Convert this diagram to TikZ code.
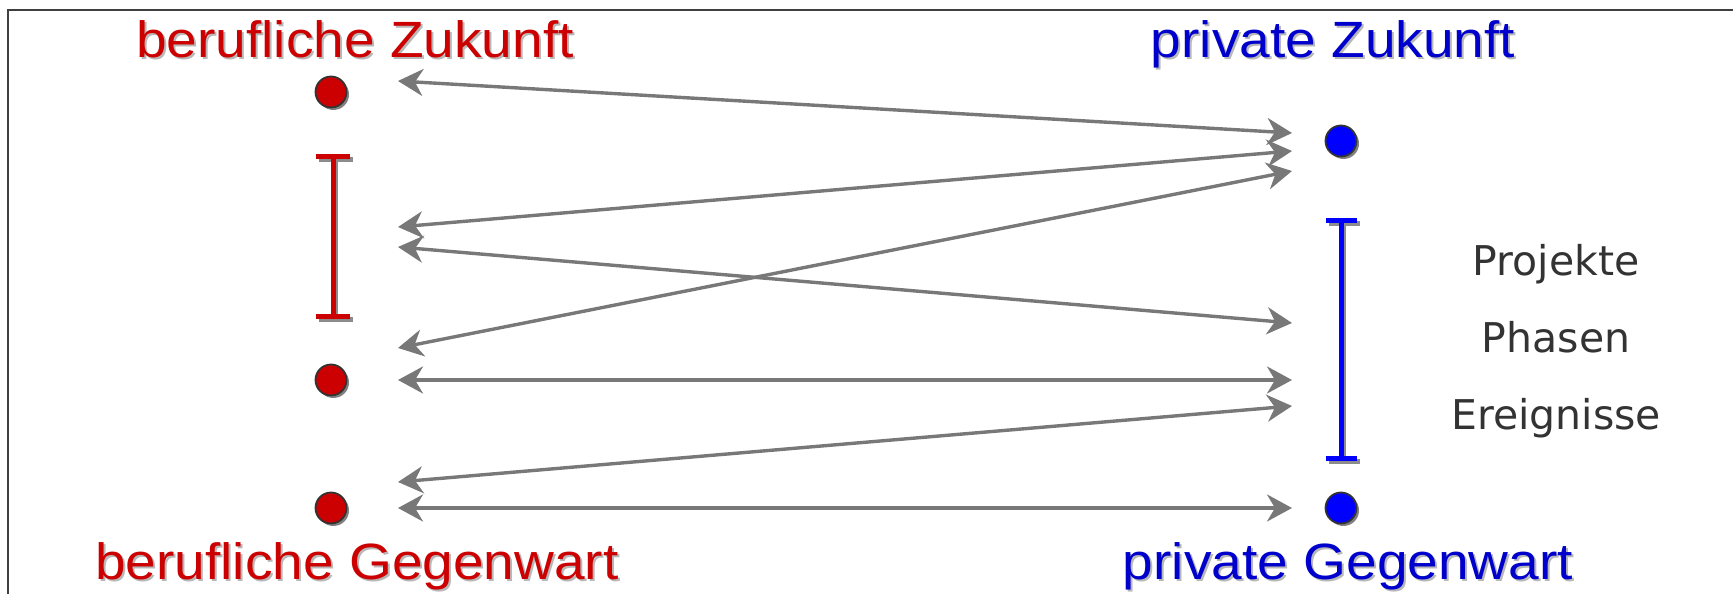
\documentclass[tikz,border=0pt]{standalone}
\usepackage{fontspec}
\setmainfont{Liberation Sans}
\newfontfamily\headfont[FakeStretch=1.08]{Liberation Sans}
\newfontfamily\listfont{DejaVu Sans}
\usetikzlibrary{arrows.meta,shadows}

\definecolor{jobred}{HTML}{CC0000}
\definecolor{privblue}{HTML}{0000CC}
\definecolor{dotblue}{HTML}{0000FF}
\definecolor{linkgray}{HTML}{787878}
\newcommand{\shadowed}[1]{\makebox[0pt][l]{\hspace{2pt}\raisebox{-2pt}{\color{black!28}#1}}#1}

\tikzset{
  dotnode/.style={circle, draw=black!80, line width=1.8pt, minimum size=31pt, inner sep=0pt,
    drop shadow={shadow xshift=2.5pt, shadow yshift=-2.5pt, fill=black!50, opacity=1}},
  headline/.style={anchor=base, inner sep=0pt, font=\headfont\fontsize{51pt}{58pt}\selectfont},
  itemtext/.style={anchor=base, inner sep=0pt, text=black!80, font=\listfont\fontsize{41pt}{48pt}\selectfont},
  ibar/.style={line width=5pt},
  ibarshadow/.style={ibar, draw=black!45, shift={(2.5,-2.5)}},
  tip/.tip={Stealth[length=25pt,width=27pt,inset=8pt]},
  conn/.style={draw=linkgray, line width=3.4pt, tip-tip}
}

\begin{document}
\begin{tikzpicture}[x=1pt,y=1pt]
    \useasboundingbox (0,0) rectangle (1733,594);
    \draw[black!75, line width=1.6pt] (8,-16) -- (8,584) -- (1745,584);

    % labels
    \node[headline, text=jobred] at (355,536) (lbz) {\shadowed{berufliche Zukunft}};
    \node[headline, text=privblue] at (1333,536) (lpz) {\shadowed{private Zukunft}};
    \node[headline, text=jobred] at (357,14) (lbg) {\shadowed{berufliche Gegenwart}};
    \node[headline, text=privblue] at (1348,14) (lpg) {\shadowed{private Gegenwart}};

    % time points
    \node[dotnode, fill=jobred] at (331,502) (bz) {};
    \node[dotnode, fill=jobred] at (331,214) (bm) {};
    \node[dotnode, fill=jobred] at (331,86) (bg) {};
    \node[dotnode, fill=dotblue] at (1341,453) (pz) {};
    \node[dotnode, fill=dotblue] at (1341,86) (pg) {};

    % spans
    \draw[ibarshadow] (316,437) -- (350,437) (333,437) -- (333,277) (316,277) -- (350,277);
    \draw[ibar, draw=jobred] (316,437) -- (350,437) (333,437) -- (333,277) (316,277) -- (350,277);
    \draw[ibarshadow] (1326,373) -- (1357,373) (1341,373) -- (1341,135) (1326,135) -- (1357,135);
    \draw[ibar, draw=dotblue] (1326,373) -- (1357,373) (1341,373) -- (1341,135) (1326,135) -- (1357,135);

    \node[itemtext] at (1556,318) (proj) {Projekte};
    \node[itemtext] at (1556,241) (phas) {Phasen};
    \node[itemtext] at (1556,164) (ereig) {Ereignisse};

    % arrow ends
    \coordinate (l1) at (398,513);
    \coordinate (l2) at (398,367);
    \coordinate (l3) at (398,347);
    \coordinate (l4) at (398,246);
    \coordinate (l5) at (398,214);
    \coordinate (l6) at (398,112);
    \coordinate (l7) at (398,86);
    \coordinate (r1) at (1292,461);
    \coordinate (r2) at (1292,443);
    \coordinate (r3) at (1292,423);
    \coordinate (r4) at (1292,271);
    \coordinate (r5) at (1292,214);
    \coordinate (r6) at (1292,188);
    \coordinate (r7) at (1292,86);

    \draw[conn] (l1) -- (r1);
    \draw[conn] (l2) -- (r2);
    \draw[conn] (l3) -- (r4);
    \draw[conn] (l4) -- (r3);
    \draw[conn] (l5) -- (r5);
    \draw[conn] (l6) -- (r6);
    \draw[conn] (l7) -- (r7);
\end{tikzpicture}
\end{document}
